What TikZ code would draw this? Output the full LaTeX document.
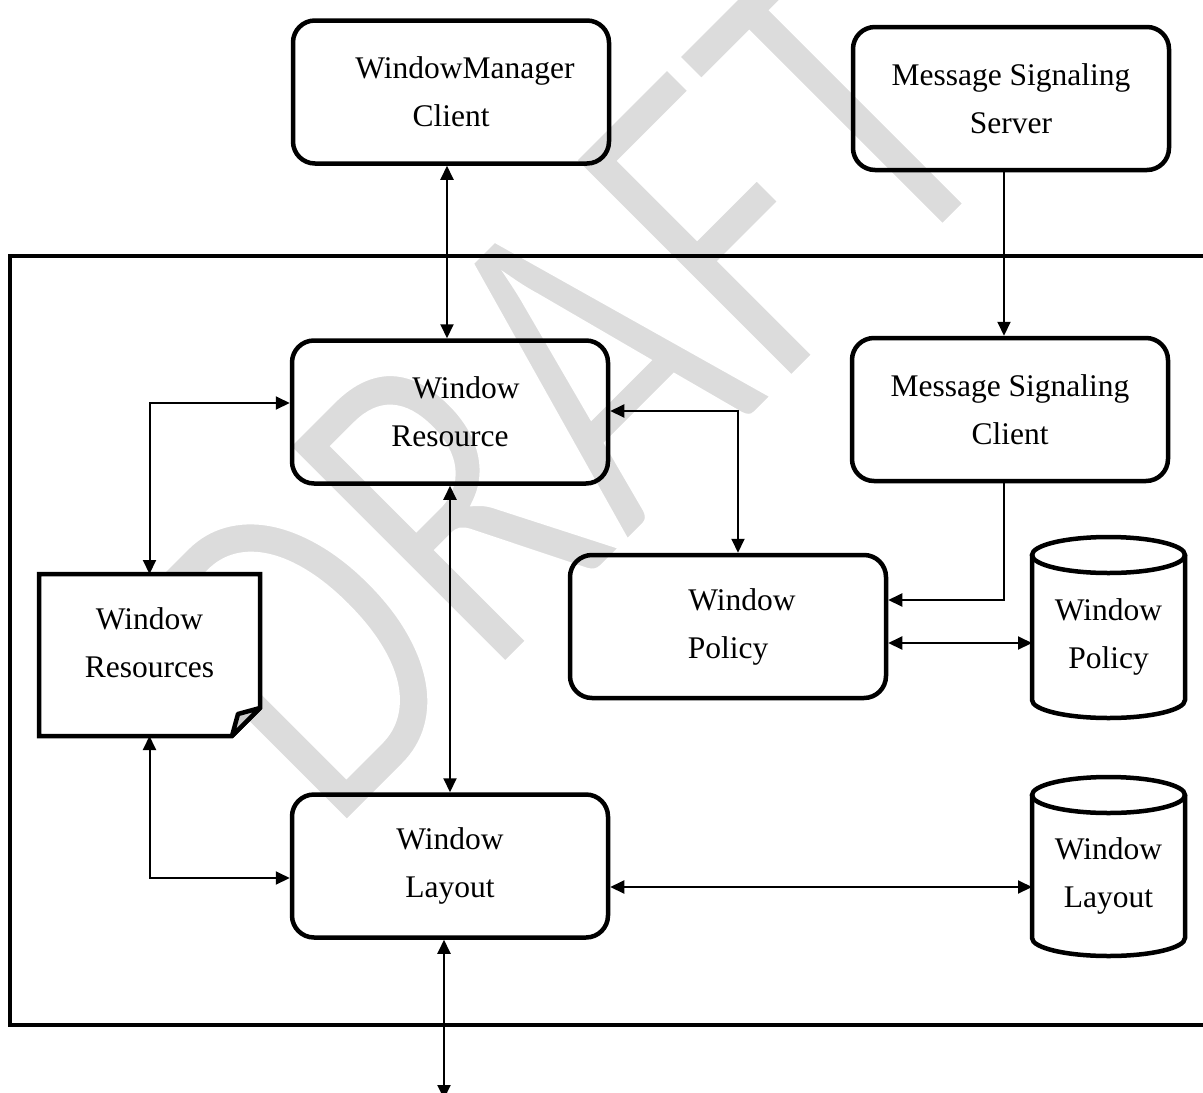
\documentclass[tikz,border=0pt]{standalone}
\usepackage{fontspec}
\setmainfont{Liberation Serif}
\newfontfamily\wmfont{Carlito}
\usetikzlibrary{arrows.meta,calc}
\definecolor{wmgray}{RGB}{220,220,220}
\definecolor{foldgray}{RGB}{205,205,205}
\newcommand\boxfont{\fontsize{31.5}{48}\selectfont}
% thin the watermark glyphs: fill them, then stroke their outlines in white
\newcommand\thinglyphs[1]{\special{pdf:literal direct 2 Tr 1 1 1 RG 5 w 0 j}#1\special{pdf:literal direct 0 Tr}}
\tikzset{
  box/.style={draw, line width=4.5pt, rounded corners=22pt, minimum width=316pt,
    minimum height=143pt, align=center, inner sep=0pt, font=\boxfont},
  cylbody/.style={minimum width=153pt, inner sep=0pt, outer sep=0pt, align=center, font=\boxfont},
  docarea/.style={minimum width=221pt, minimum height=162pt, inner sep=0pt, outer sep=0pt},
  outline/.style={line width=4.5pt},
  dbl/.style={line width=2pt, arrows={Triangle[length=14pt,width=13pt]-Triangle[length=14pt,width=13pt]}},
  one/.style={line width=2pt, arrows={-Triangle[length=14pt,width=13pt]}},
  watermark/.style={anchor=base west, inner sep=0pt, outer sep=0pt, text=wmgray,
    font=\wmfont\fontsize{362}{362}\selectfont, rotate=45, yscale=1.33, transform shape}
}
\begin{document}
\begin{tikzpicture}[x=1pt,y=1pt]
\useasboundingbox (0,0) rectangle (1203,-1093);
\clip (0,0) rectangle (1203,-1093);

% watermark behind everything
\node[watermark] (wm) at (330,-840) {\thinglyphs{DRAFT}};

% system frame (its right side runs off the page)
\draw[outline] (1260,-256) -- (10,-256) -- (10,-1025) -- (1260,-1025);

% external components
\node[box] (wmc) at (451,-92) {\hspace*{28pt}WindowManager\\Client};
\node[box] (mss) at (1011,-98.5) {Message Signaling\\Server};

% internal components
\node[box] (wres) at (450,-412) {\hspace*{32pt}Window\\Resource};
\node[box] (msc) at (1010,-409.5) {Message Signaling\\Client};
\node[box] (wpol) at (728,-626.5) {\hspace*{28pt}Window\\Policy};
\node[box] (wlay) at (450,-866) {Window\\Layout};

% resource document with folded corner
\node[docarea] (wdoc) at (149.5,-655) {};
\filldraw[outline, fill=white] (wdoc.north west) -- (wdoc.north east)
  -- ($(wdoc.south east)+(0,28)$) -- ($(wdoc.south east)+(-28,0)$)
  -- (wdoc.south west) -- cycle;
\filldraw[outline, fill=foldgray, line join=round] ($(wdoc.south east)+(-28,0)$)
  -- ($(wdoc.south east)+(-22,22)$) -- ($(wdoc.south east)+(0,28)$) -- cycle;
\node[font=\boxfont, align=center, inner sep=0pt] (wdoctext) at ($(wdoc.center)+(0,12)$) {Window\\Resources};

% policy store
\node[cylbody, minimum height=163pt] (cpol) at (1108.5,-636.5) {Window\\Policy};
\draw[outline] (cpol.north) ellipse[x radius=76.5, y radius=18];
\draw[outline] (cpol.north west) -- ($(cpol.south west)+(0,18)$)
  arc[start angle=180, end angle=360, x radius=76.5, y radius=18] -- (cpol.north east);

% layout store
\node[cylbody, minimum height=161pt] (clay) at (1108.5,-875.5) {Window\\Layout};
\draw[outline] (clay.north) ellipse[x radius=76.5, y radius=18];
\draw[outline] (clay.north west) -- ($(clay.south west)+(0,18)$)
  arc[start angle=180, end angle=360, x radius=76.5, y radius=18] -- (clay.north east);

% connectors
\coordinate (bottomend) at (444,-1099);
\draw[dbl] ([xshift=-4]wmc.south) -- ([xshift=-4]wmc.south |- wres.north);
\draw[one] ([xshift=-7]mss.south) -- ([xshift=-7]mss.south |- msc.north);
\draw[dbl] ([yshift=9]wres.west) -| (wdoc.north);
\draw[dbl] ([yshift=1]wres.east) -| ([xshift=10]wpol.north);
\draw[dbl] (wres.south) -- (wlay.north);
\draw[one] ([xshift=-6]msc.south) |- ([yshift=26.5]wpol.east);
\draw[dbl] ([yshift=-16.5]wpol.east) -- ([yshift=-16.5]wpol.east -| cpol.west);
\draw[dbl] (wdoc.south) |- ([yshift=-12]wlay.west);
\draw[dbl] ([yshift=-21]wlay.east) -- ([yshift=-21]wlay.east -| clay.west);
\draw[dbl] ([xshift=-6]wlay.south) -- (bottomend);
\end{tikzpicture}
\end{document}
